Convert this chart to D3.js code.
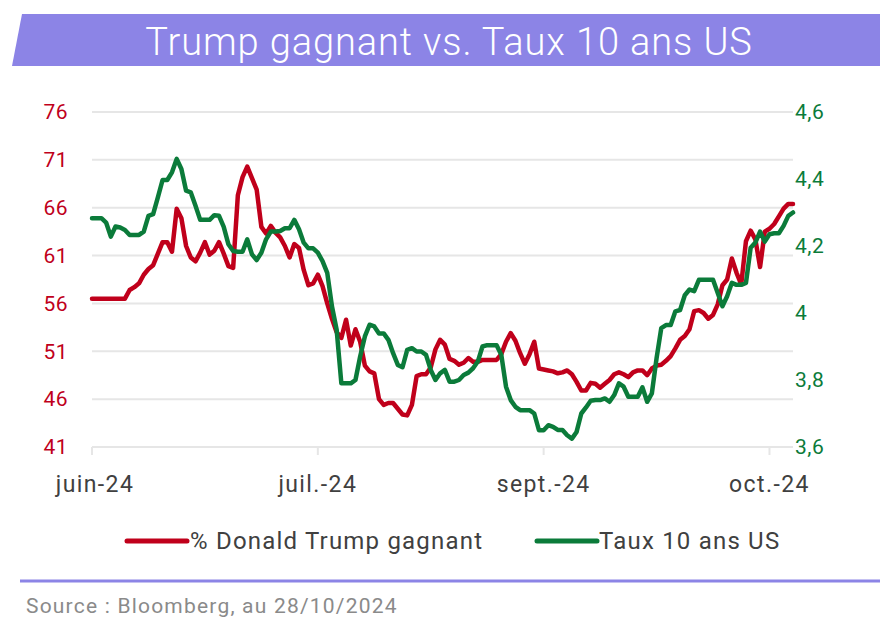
<!DOCTYPE html>
<html><head><meta charset="utf-8">
<script src="https://cdn.jsdelivr.net/npm/d3@7"></script>
<style>html,body{margin:0;padding:0;background:#fff;}svg{display:block;}</style>
</head><body>
<svg id="c" width="891" height="627"></svg>
<script>
// ---- data ----
const startDate = new Date(2024, 5, 1);
const dates = d3.timeDay.range(startDate, new Date(2024, 9, 29)); // 150 days
const trumpWin = [
56.5,56.5,56.5,56.5,56.5,56.5,56.5,56.5,57.4,57.7,
58.1,59.0,59.6,60.0,61.2,62.4,62.4,61.4,65.9,64.9,
62.0,60.8,60.4,61.3,62.4,61.1,61.5,62.4,61.2,59.9,
59.7,67.3,69.2,70.3,69.1,67.9,64.0,63.3,64.1,63.4,
62.9,62.0,60.8,62.2,61.8,59.5,57.9,58.1,59.0,57.8,
56.0,54.4,53.0,52.4,54.3,51.6,53.3,52.0,49.5,48.9,
48.7,46.0,45.4,45.6,45.6,45.0,44.4,44.3,45.4,48.4,
48.6,48.6,49.3,51.2,52.2,51.7,50.2,50.0,49.6,49.8,
50.3,49.9,49.9,50.1,50.1,50.1,50.1,50.7,52.0,52.9,
52.1,50.8,49.7,50.7,52.0,49.2,49.1,49.0,48.9,48.7,
48.8,49.0,48.6,47.8,46.9,46.9,47.7,47.6,47.2,47.6,
48.0,48.6,48.8,48.6,48.3,48.8,49.0,49.0,48.5,49.2,
49.5,49.6,50.0,50.5,51.3,52.2,52.6,53.3,55.2,55.3,
55.0,54.4,54.8,55.9,57.9,58.5,60.7,59.2,58.0,62.5,
63.6,62.7,59.8,63.5,63.8,64.3,65.1,65.9,66.4,66.4
];
const us10y = [
4.283,4.283,4.283,4.27,4.228,4.258,4.255,4.248,4.233,4.233,
4.233,4.243,4.29,4.295,4.345,4.397,4.397,4.42,4.46,4.43,
4.365,4.36,4.32,4.278,4.278,4.278,4.292,4.29,4.257,4.205,
4.185,4.183,4.183,4.22,4.175,4.158,4.18,4.22,4.243,4.243,
4.245,4.253,4.253,4.278,4.25,4.21,4.193,4.193,4.18,4.155,
4.12,4.02,3.95,3.79,3.79,3.79,3.80,3.87,3.93,3.965,
3.96,3.939,3.939,3.92,3.88,3.845,3.838,3.89,3.895,3.885,
3.885,3.875,3.83,3.80,3.82,3.83,3.795,3.795,3.80,3.815,
3.822,3.835,3.855,3.90,3.904,3.904,3.904,3.875,3.78,3.74,
3.72,3.71,3.71,3.71,3.70,3.65,3.65,3.665,3.66,3.651,
3.651,3.635,3.625,3.645,3.70,3.718,3.738,3.74,3.74,3.745,
3.735,3.755,3.79,3.78,3.75,3.75,3.75,3.778,3.735,3.76,
3.865,3.955,3.964,3.964,4.005,4.009,4.053,4.07,4.065,4.099,
4.099,4.099,4.099,4.06,4.02,4.05,4.09,4.084,4.084,4.09,
4.195,4.21,4.243,4.213,4.235,4.238,4.238,4.26,4.29,4.30
];
const leftTicks = [41,46,51,56,61,66,71,76];
const rightTicks = [3.6,3.8,4.0,4.2,4.4,4.6];
const xTickIdx = [0,48,96,144];
const xTickLabels = ["juin-24","juil.-24","sept.-24","oct.-24"];
const title = "Trump gagnant vs. Taux 10 ans US";
const seriesNames = ["% Donald Trump gagnant","Taux 10 ans US"];
const source = "Source : Bloomberg, au 28/10/2024";

// ---- styles ----
const RED = "#C0001B", GREEN = "#0B7B3A", PURPLE = "#8C84E6", GRID = "#E6E6E6", TXT = "#404040";
const FONT = "Roboto, 'Noto Sans', sans-serif";

const svg = d3.select("#c");
const x = d3.scaleLinear().domain([0, dates.length - 1]).range([92, 793]);
const yL = d3.scaleLinear().domain([41, 76]).range([447, 112]);
const yR = d3.scaleLinear().domain([3.6, 4.6]).range([447, 112]);

// title banner
svg.append("path").attr("d", "M22,14 L880,14 L880,66 L12,66 Z").attr("fill", PURPLE);
svg.append("text").attr("x", 449).attr("y", 55).attr("text-anchor", "middle")
  .attr("fill", "#fff").attr("font-family", FONT).attr("font-weight", 300)
  .attr("font-size", 38).attr("letter-spacing", 0.9).text(title);

// gridlines
svg.append("g").selectAll("line").data(leftTicks).join("line")
  .attr("x1", 92).attr("x2", 793).attr("y1", d => yL(d)).attr("y2", d => yL(d))
  .attr("stroke", GRID).attr("stroke-width", 2);

// x ticks
svg.append("g").selectAll("line").data(xTickIdx).join("line")
  .attr("x1", d => x(d)).attr("x2", d => x(d)).attr("y1", 447).attr("y2", 455)
  .attr("stroke", GRID).attr("stroke-width", 2);

// left axis labels
svg.append("g").selectAll("text").data(leftTicks).join("text")
  .attr("x", 68).attr("y", d => yL(d)).attr("dy", "0.35em").attr("text-anchor", "end")
  .attr("fill", RED).attr("font-family", FONT).attr("font-size", 21).attr("letter-spacing", 0.5).text(d => d);

// right axis labels
const fmtR = d => d3.format(".1f")(d).replace(".0", "").replace(".", ",");
svg.append("g").selectAll("text").data(rightTicks).join("text")
  .attr("x", 795).attr("y", d => yR(d)).attr("dy", "0.35em").attr("text-anchor", "start")
  .attr("fill", GREEN).attr("font-family", FONT).attr("font-size", 21).attr("letter-spacing", 0.5).text(fmtR);

// x labels
svg.append("g").selectAll("text").data(xTickIdx).join("text")
  .attr("x", (d, i) => x(d) + (i === 0 ? 3 : 0)).attr("y", 492).attr("text-anchor", "middle")
  .attr("fill", TXT).attr("font-family", FONT).attr("font-size", 23).attr("letter-spacing", 1.4)
  .text((d, i) => xTickLabels[i]);

// lines
const lineL = d3.line().x((d, i) => x(i)).y(d => yL(d));
const lineR = d3.line().x((d, i) => x(i)).y(d => yR(d));
svg.append("path").datum(trumpWin).attr("d", lineL).attr("fill", "none")
  .attr("stroke", RED).attr("stroke-width", 4.5).attr("stroke-linejoin", "round").attr("stroke-linecap", "round");
svg.append("path").datum(us10y).attr("d", lineR).attr("fill", "none")
  .attr("stroke", GREEN).attr("stroke-width", 4.5).attr("stroke-linejoin", "round").attr("stroke-linecap", "round");

// legend
const leg = [{c: RED, x1: 127, x2: 187, tx: 190}, {c: GREEN, x1: 537, x2: 597, tx: 599}];
leg.forEach((l, i) => {
  svg.append("line").attr("x1", l.x1).attr("x2", l.x2).attr("y1", 541).attr("y2", 541)
    .attr("stroke", l.c).attr("stroke-width", 5).attr("stroke-linecap", "round");
  svg.append("text").attr("x", l.tx).attr("y", 541).attr("dy", "0.35em")
    .attr("fill", TXT).attr("font-family", FONT).attr("font-size", 24).attr("letter-spacing", 1.2)
    .text(seriesNames[i]);
});

// divider & source
svg.append("line").attr("x1", 20).attr("x2", 880).attr("y1", 581).attr("y2", 581)
  .attr("stroke", PURPLE).attr("stroke-width", 3);
svg.append("text").attr("x", 26).attr("y", 613).attr("fill", "#8A8A8A")
  .attr("font-family", FONT).attr("font-size", 21).attr("letter-spacing", 1.2).text(source);
</script>
</body></html>
